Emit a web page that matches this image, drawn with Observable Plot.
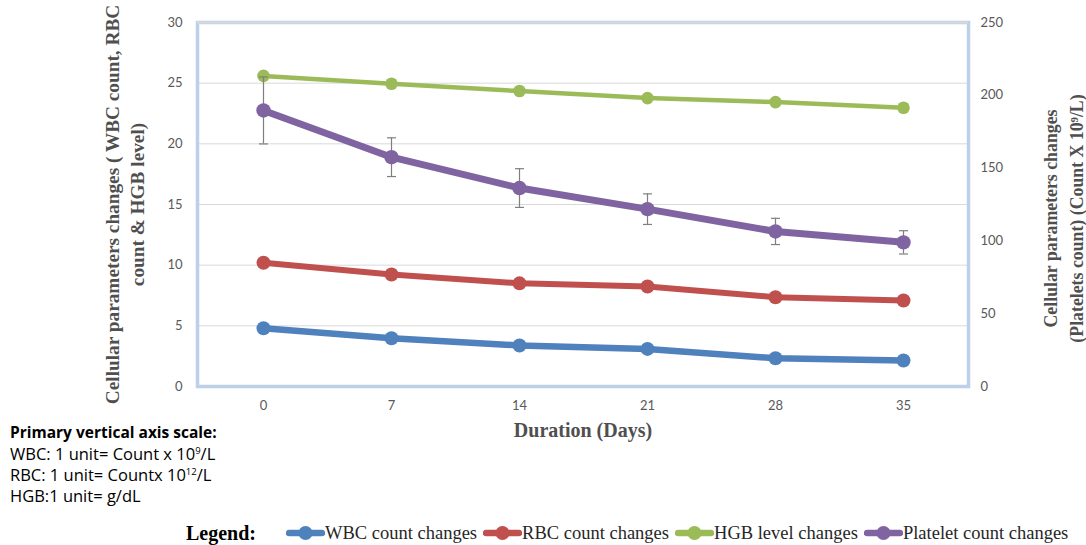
<!DOCTYPE html>
<html><head><meta charset="utf-8">
<script src="https://cdn.jsdelivr.net/npm/d3@7"></script>
<script src="https://cdn.jsdelivr.net/npm/@observablehq/plot@0.6"></script>
<style>
body{margin:0;background:#fff;}
#wrap{position:relative;width:1086px;height:545px;overflow:hidden;background:#fff;}
#chart{position:absolute;left:0;top:0;}
#note{position:absolute;left:10px;top:421px;font-family:"Open Sans",Lato,sans-serif;font-size:16.5px;line-height:21px;color:#000;white-space:nowrap;}
#note b{font-size:15.5px;}
#note sup{font-size:9.5px;vertical-align:6px;line-height:0;}
#legend{position:absolute;left:186px;top:520px;height:26px;display:flex;align-items:center;font-family:"Liberation Serif",serif;font-size:18.5px;color:#262626;white-space:nowrap;}
#legend .title{font-weight:bold;font-size:20px;color:#000;margin-right:30px;}
#legend .item{display:flex;align-items:center;margin-right:6px;}
#legend svg{display:block;}
</style></head>
<body>
<div id="wrap">
  <div id="chart"></div>
  <div id="note">
    <div><b>Primary vertical axis scale:</b></div>
    <div>WBC: 1 unit= Count x 10<sup>9</sup>/L</div>
    <div>RBC: 1 unit= Countx 10<sup>12</sup>/L</div>
    <div>HGB:1 unit= g/dL</div>
  </div>
  <div id="legend"></div>
</div>
<script>
const days = [0, 7, 14, 21, 28, 35];
const wbc = [4.8, 3.98, 3.38, 3.1, 2.33, 2.14];
const rbc = [10.2, 9.23, 8.5, 8.24, 7.36, 7.09];
const hgb = [25.6, 24.95, 24.35, 23.77, 23.44, 22.97];
const platelet = [189.6, 157.5, 136.3, 121.8, 106.5, 99.0];
const plateletErr = [23, 13.3, 13.3, 10.5, 9, 8];
const leftTicks = [0, 5, 10, 15, 20, 25, 30];
const rightTicks = [0, 50, 100, 150, 200, 250];
const seriesNames = ["WBC count changes", "RBC count changes", "HGB level changes", "Platelet count changes"];
const seriesColors = ["#4F81BD", "#C0504D", "#9BBB59", "#8064A2"];
const leftTitle = "Cellular parameters changes ( WBC count, RBC\ncount & HGB level)";
const rightTitle = "Cellular parameters changes\n(Platelets count) (Count X 10\u2079/L)";
const xTitle = "Duration (Days)";

const k = 30 / 250; // secondary axis conversion
const rows = (vals) => days.map((d, i) => ({day: d, v: vals[i]}));
const platRows = days.map((d, i) => ({day: d, v: platelet[i] * k, e: plateletErr[i] * k}));
const primary = [wbc, rbc, hgb];
const widths = [6.5, 6, 4.5, 7];
const radii = [7, 7, 6.3, 7.2];
const capSymbol = {draw(ctx) { ctx.moveTo(-4.5, 0); ctx.lineTo(4.5, 0); }};

const marks = [
  Plot.ruleY(leftTicks.filter(t => t > 0), {stroke: "#D9D9D9", strokeWidth: 1}),
  Plot.frame({stroke: "#BCD0E8", strokeWidth: 3.5}),
  Plot.ruleY([30], {stroke: "#DADADA", strokeWidth: 2}),
  Plot.axisY(leftTicks, {anchor: "left", tickSize: 0, tickPadding: 15, label: null, fill: "#595959"}),
  Plot.axisY(rightTicks.map(v => v * k), {anchor: "right", tickSize: 0, tickPadding: 12, label: null, fill: "#595959", tickFormat: d => Math.round(d / k)}),
  Plot.axisX(days, {tickSize: 0, tickPadding: 14, label: null, fill: "#595959"}),
  Plot.text([leftTitle], {frameAnchor: "left", rotate: -90, dx: -74, text: d => d, fontWeight: "bold", fontFamily: "Liberation Serif", fontSize: 19.3, fill: "#4F4F4F", lineHeight: 1.3, textAnchor: "middle", lineAnchor: "middle"}),
  Plot.text([rightTitle], {frameAnchor: "right", rotate: -90, dx: 93, dy: 14, text: d => d, fontWeight: "bold", fontFamily: "Liberation Serif", fontSize: 17.8, fill: "#4F4F4F", lineHeight: 1.45, textAnchor: "middle", lineAnchor: "middle"}),
  Plot.text([xTitle], {frameAnchor: "bottom", dy: 50, text: d => d, fontWeight: "bold", fontFamily: "Liberation Serif", fontSize: 20, fill: "#4F4F4F"})
];

primary.forEach((vals, s) => {
  marks.push(Plot.line(rows(vals), {x: "day", y: "v", stroke: seriesColors[s], strokeWidth: widths[s]}));
  marks.push(Plot.dot(rows(vals), {x: "day", y: "v", r: radii[s], fill: seriesColors[s]}));
});
marks.push(Plot.ruleX(platRows, {x: "day", y1: d => d.v - d.e, y2: d => d.v + d.e, stroke: "#7F7F7F", strokeWidth: 1.2}));
marks.push(Plot.dot(platRows, {x: "day", y: d => d.v + d.e, symbol: capSymbol, fill: "none", stroke: "#7F7F7F", strokeWidth: 1.2}));
marks.push(Plot.dot(platRows, {x: "day", y: d => d.v - d.e, symbol: capSymbol, fill: "none", stroke: "#7F7F7F", strokeWidth: 1.2}));
marks.push(Plot.line(platRows, {x: "day", y: "v", stroke: seriesColors[3], strokeWidth: widths[3]}));
marks.push(Plot.dot(platRows, {x: "day", y: "v", r: radii[3], fill: seriesColors[3]}));

const chart = Plot.plot({
  width: 1086,
  height: 545,
  marginLeft: 197,
  marginRight: 118,
  marginTop: 22,
  marginBottom: 159,
  x: {type: "point", domain: days, padding: 0.5},
  y: {domain: [0, 30]},
  style: {fontFamily: "Lato, 'Open Sans', sans-serif", fontSize: "13px", color: "#595959", background: "transparent"},
  marks
});
document.getElementById("chart").appendChild(chart);

const legend = document.getElementById("legend");
const t = document.createElement("span");
t.className = "title";
t.textContent = "Legend:";
legend.appendChild(t);
seriesNames.forEach((name, i) => {
  const item = document.createElement("span");
  item.className = "item";
  item.innerHTML = `<svg width="39" height="16"><line x1="3" y1="8" x2="36" y2="8" stroke="${seriesColors[i]}" stroke-width="6.5" stroke-linecap="round"/><circle cx="19.5" cy="8" r="7" fill="${seriesColors[i]}"/></svg><span>${name}</span>`;
  legend.appendChild(item);
});
</script>
</body></html>
